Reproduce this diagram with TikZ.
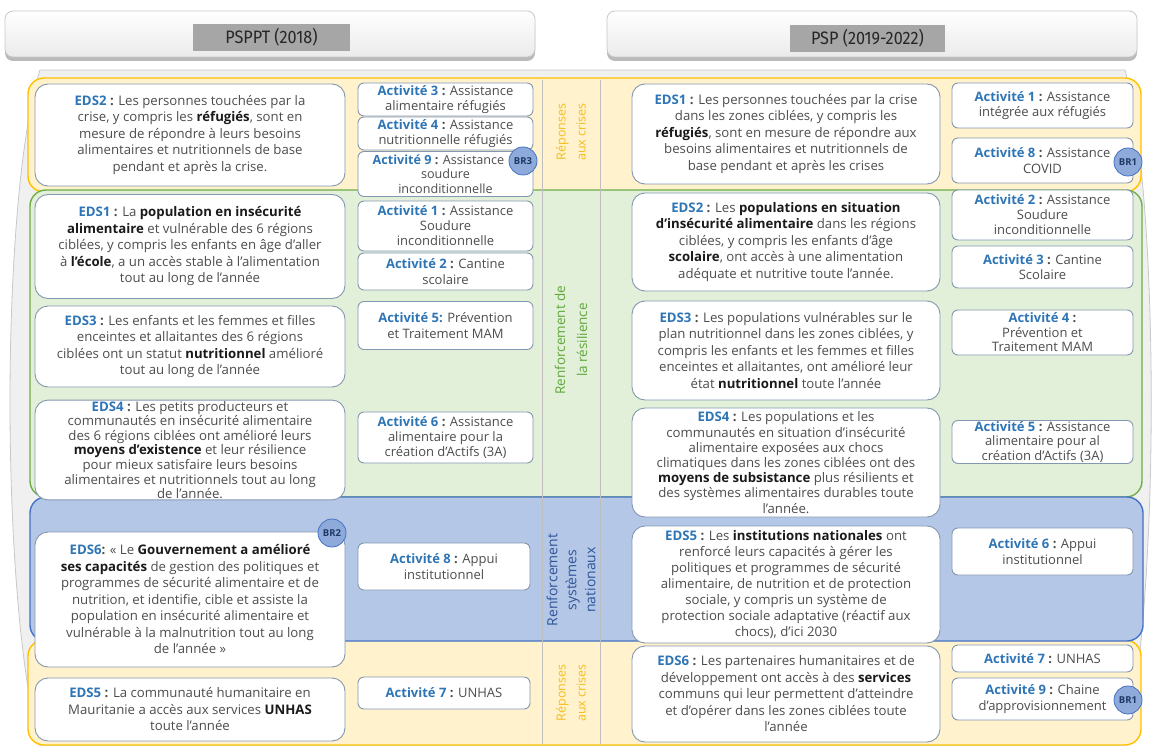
\documentclass[tikz,border=0pt]{standalone}
\usepackage{fontspec}
\setmainfont{Open Sans}
\newfontfamily\hdrfont{Fira Sans}
\usetikzlibrary{shadows}
\definecolor{ebl}{HTML}{2E75B6}
\definecolor{txt}{HTML}{4D4D4D}
\definecolor{bk}{HTML}{1A1A1A}
\definecolor{boxd}{HTML}{8497B0}
\definecolor{yfill}{HTML}{FFF2CC}
\definecolor{ydraw}{HTML}{FFC000}
\definecolor{gfill}{HTML}{E2F0D9}
\definecolor{gdraw}{HTML}{70AD47}
\definecolor{bfill}{HTML}{B4C7E7}
\definecolor{bdraw}{HTML}{4472C4}
\definecolor{bgfill}{HTML}{F0F0F0}
\definecolor{bgdraw}{HTML}{C8C8C8}
\definecolor{brfill}{HTML}{8EAADB}
\definecolor{brtext}{HTML}{1F3864}
\definecolor{lblue}{HTML}{2F5597}
\definecolor{ylab}{HTML}{F5BD1F}
\definecolor{glab}{HTML}{5FA83A}
\newcommand\lb[1]{\textbf{\textcolor{ebl}{#1}}}
\newcommand\bd[1]{\textbf{\textcolor{bk}{#1}}}
\tikzset{
  eds/.style={draw=boxd, fill=white, rounded corners=13pt, line width=0.9pt, align=center, text=txt, font=\fontsize{13.2}{16.5}\selectfont, inner sep=1pt},
  actbox/.style={draw=boxd, fill=white, rounded corners=6pt, line width=0.9pt, align=center, text=txt, font=\fontsize{13}{15.5}\selectfont, inner sep=1pt},
  brc/.style={circle, fill=brfill, draw=bdraw, line width=0.8pt, minimum size=28pt, inner sep=0pt, text=brtext, font=\fontsize{9.5}{9.5}\selectfont\bfseries},
  vlab/.style={rotate=90, align=center},
  hdr/.style={draw=bgdraw, top color=white, bottom color=black!8, rounded corners=8pt, line width=0.8pt, drop shadow={shadow xshift=0pt, shadow yshift=-4pt, fill=black!45, opacity=0.6}},
  hdrlab/.style={fill=black!35, inner sep=0pt, font=\hdrfont\fontsize{18}{18}\selectfont, text=black!85},
  band/.style={line width=1.4pt, rounded corners=16pt},
  midline/.style={draw=black!25, line width=0.6pt}
}
\begin{document}
\begin{tikzpicture}[x=1pt,y=-1pt]
\useasboundingbox (0,0) rectangle (1157,746);
\fill[white] (0,0) rectangle (1157,746);
% headers
\node[hdr, minimum width=530pt, minimum height=46pt] (h1) at (270,34) {};
\node[hdrlab, minimum width=157pt, minimum height=27pt] (h1l) at (271.5,37.5) {\scalebox{0.9}[1]{PSPPT (2018)}};
\node[hdr, minimum width=530pt, minimum height=46pt] (h2) at (872,34) {};
\node[hdrlab, minimum width=155pt, minimum height=27pt] (h2l) at (867.5,38.5) {\scalebox{0.9}[1]{PSP (2019-2022)}};
% background
\path[fill=bgfill, draw=bgdraw, line width=0.8pt] (40,70) -- (1125,70) .. controls (1160,200) and (1160,600) .. (1125,746) -- (40,746) .. controls (0,600) and (0,200) .. (40,70) -- cycle;
% bands
\path[band, fill=yfill, draw=ydraw] (28,78) rectangle (1141,192);
\path[band, fill=yfill, draw=ydraw] (28,640) rectangle (1141,745);
\path[band, fill=gfill, draw=gdraw] (30,190) rectangle (1142,497);
\path[band, fill=bfill, draw=bdraw] (30,497) rectangle (1143,641);
\draw[midline] (542,80) -- (542,744);
\draw[midline] (600,80) -- (600,744);
% middle labels
\node[vlab, text=ylab, font=\fontsize{12.5}{20}\selectfont] (m1) at (571,132) {Réponses\\aux crises};
\node[vlab, text=glab, font=\fontsize{13.5}{22}\selectfont] (m2) at (571,340) {Renforcement de\\la résilience};
\node[vlab, text=lblue, font=\fontsize{14}{19}\selectfont] (m3) at (571,580) {Renforcement\\systèmes\\nationaux};
\node[vlab, text=ylab, font=\fontsize{12.5}{20}\selectfont] (m4) at (571,693) {Réponses\\aux crises};
% left EDS
\node[eds, minimum width=310pt, minimum height=102pt] (L2) at (190,135) {\lb{EDS2} \textbf{:} Les personnes touchées par la\\ crise, y compris les \bd{réfugiés}, sont en\\ mesure de répondre à leurs besoins\\ alimentaires et nutritionnels de base\\ pendant et après la crise.};
\node[eds, minimum width=310pt, minimum height=104pt] (L1) at (190,246.5) {\lb{EDS1} \textbf{:} La \bd{population en insécurité}\\ \bd{alimentaire} et vulnérable des 6 régions\\ ciblées, y compris les enfants en âge d'aller\\ à \bd{l'école}, a un accès stable à l'alimentation\\ tout au long de l'année};
\node[eds, minimum width=310pt, minimum height=81pt] (L3) at (190,346.5) {\lb{EDS3} \textbf{:} Les enfants et les femmes et filles\\ enceintes et allaitantes des 6 régions\\ ciblées ont un statut \bd{nutritionnel} amélioré\\ tout au long de l'année};
\node[eds, minimum width=310pt, minimum height=99pt, font=\fontsize{13.2}{14.6}\selectfont] (L4) at (190,450) {\lb{EDS4} \textbf{:} Les petits producteurs et\\ communautés en insécurité alimentaire\\ des 6 régions ciblées ont amélioré leurs\\ \bd{moyens d'existence} et leur résilience\\ pour mieux satisfaire leurs besoins\\ alimentaires et nutritionnels tout au long\\ de l'année.};
\node[eds, minimum width=310pt, minimum height=135pt] (L6) at (190,599.5) {\lb{EDS6}\textbf{:} « Le \bd{Gouvernement a amélioré}\\ \bd{ses capacités} de gestion des politiques et\\ programmes de sécurité alimentaire et de\\ nutrition, et identifie, cible et assiste la\\ population en insécurité alimentaire et\\ vulnérable à la malnutrition tout au long\\ de l'année »};
\node[eds, minimum width=310pt, minimum height=63pt] (L5) at (190,709.5) {\lb{EDS5} \textbf{:} La communauté humanitaire en\\ Mauritanie a accès aux services \bd{UNHAS}\\ toute l'année};
% left activities
\node[actbox, minimum width=175pt, minimum height=33pt] (A3) at (445.5,99.5) {\lb{Activité 3} \textbf{:} Assistance\\ alimentaire réfugiés};
\node[actbox, minimum width=175pt, minimum height=33pt] (A4) at (445.5,133.5) {\lb{Activité 4} \textbf{:} Assistance\\ nutritionnelle réfugiés};
\node[actbox, minimum width=175pt, minimum height=45pt, font=\fontsize{12.6}{14.5}\selectfont] (A9) at (445.5,174) {\lb{Activité 9} \textbf{:} Assistance\hspace*{14pt}\\ soudure\\ inconditionnelle};
\node[actbox, minimum width=175pt, minimum height=50pt, font=\fontsize{13}{15}\selectfont] (A1) at (445.5,226) {\lb{Activité 1} \textbf{:} Assistance\\ Soudure\\ inconditionnelle};
\node[actbox, minimum width=175pt, minimum height=37pt] (A2) at (445.5,271.5) {\lb{Activité 2} \textbf{:} Cantine\\ scolaire};
\node[actbox, minimum width=175pt, minimum height=48pt] (A5) at (445.5,325.5) {\lb{Activité 5:} Prévention\\ et Traitement MAM};
\node[actbox, minimum width=175pt, minimum height=51pt, font=\fontsize{13}{15}\selectfont] (A6) at (445.5,437.5) {\lb{Activité 6} \textbf{:} Assistance\\ alimentaire pour la\\ création d'Actifs (3A)};
\node[actbox, minimum width=172pt, minimum height=47pt] (A8) at (444,566.5) {\lb{Activité 8} \textbf{:} Appui\\ institutionnel};
\node[actbox, minimum width=172pt, minimum height=32pt] (A7) at (444,693) {\lb{Activité 7} \textbf{:} UNHAS};
% right EDS
\node[eds, minimum width=308pt, minimum height=100pt] (R1) at (786,134) {\lb{EDS1} \textbf{:} Les personnes touchées par la crise\\ dans les zones ciblées, y compris les\\ \bd{réfugiés}, sont en mesure de répondre aux\\ besoins alimentaires et nutritionnels de\\ base pendant et après les crises};
\node[eds, minimum width=308pt, minimum height=98pt] (R2) at (786,242) {\lb{EDS2} \textbf{:} Les \bd{populations en situation}\\ \bd{d'insécurité alimentaire} dans les régions\\ ciblées, y compris les enfants d'âge\\ \bd{scolaire}, ont accès à une alimentation\\ adéquate et nutritive toute l'année.};
\node[eds, minimum width=308pt, minimum height=99pt] (R3) at (786,350.5) {\lb{EDS3} \textbf{:} Les populations vulnérables sur le\\ plan nutritionnel dans les zones ciblées, y\\ compris les enfants et les femmes et filles\\ enceintes et allaitantes, ont amélioré leur\\ état \bd{nutritionnel} toute l'année};
\node[eds, minimum width=308pt, minimum height=109pt, font=\fontsize{13.2}{15.2}\selectfont] (R4) at (786,462.5) {\lb{EDS4} \textbf{:} Les populations et les\\ communautés en situation d'insécurité\\ alimentaire exposées aux chocs\\ climatiques dans les zones ciblées ont des\\ \bd{moyens de subsistance} plus résilients et\\ des systèmes alimentaires durables toute\\ l'année.};
\node[eds, minimum width=308pt, minimum height=117pt, font=\fontsize{13.2}{16}\selectfont] (R5) at (786,584.5) {\lb{EDS5} \textbf{:} Les \bd{institutions nationales} ont\\ renforcé leurs capacités à gérer les\\ politiques et programmes de sécurité\\ alimentaire, de nutrition et de protection\\ sociale, y compris un système de\\ protection sociale adaptative (réactif aux\\ chocs), d'ici 2030};
\node[eds, minimum width=308pt, minimum height=96pt] (R6) at (786,694) {\lb{EDS6} \textbf{:} Les partenaires humanitaires et de\\ développement ont accès à des \bd{services}\\ communs qui leur permettent d'atteindre\\ et d'opérer dans les zones ciblées toute\\ l'année};
% right activities
\node[actbox, minimum width=181pt, minimum height=45pt] (RA1) at (1042.5,105.5) {\lb{Activité 1} \textbf{:} Assistance\\ intégrée aux réfugiés};
\node[actbox, minimum width=181pt, minimum height=45pt] (RA8) at (1042.5,160.5) {\lb{Activité 8} \textbf{:} Assistance\\ COVID};
\node[actbox, minimum width=181pt, minimum height=50pt, font=\fontsize{13}{15}\selectfont] (RA2) at (1042.5,215) {\lb{Activité 2} \textbf{:} Assistance\\ Soudure\\ inconditionnelle};
\node[actbox, minimum width=181pt, minimum height=42pt] (RA3) at (1042.5,267) {\lb{Activité 3} \textbf{:} Cantine\\ Scolaire};
\node[actbox, minimum width=181pt, minimum height=45pt, font=\fontsize{13}{14.5}\selectfont] (RA4) at (1042.5,332.5) {\lb{Activité 4} \textbf{:}\\ Prévention et\\ Traitement MAM};
\node[actbox, minimum width=181pt, minimum height=42pt, font=\fontsize{13}{14.5}\selectfont] (RA5) at (1042.5,442) {\lb{Activité 5} \textbf{:} Assistance\\ alimentaire pour al\\ création d'Actifs (3A)};
\node[actbox, minimum width=181pt, minimum height=47pt] (RA6) at (1042.5,551.5) {\lb{Activité 6} \textbf{:} Appui\\ institutionnel};
\node[actbox, minimum width=181pt, minimum height=27pt] (RA7) at (1042.5,658.5) {\lb{Activité 7} \textbf{:} UNHAS};
\node[actbox, minimum width=181pt, minimum height=42pt] (RA9) at (1042.5,699) {\lb{Activité 9} \textbf{:} Chaine\\ d'approvisionnement};
% BR circles
\node[brc] (br3) at (523,161) {BR3};
\node[brc] (br2) at (332,533) {BR2};
\node[brc] (br1a) at (1128,162) {BR1};
\node[brc] (br1b) at (1128,700) {BR1};
\end{tikzpicture}
\end{document}
